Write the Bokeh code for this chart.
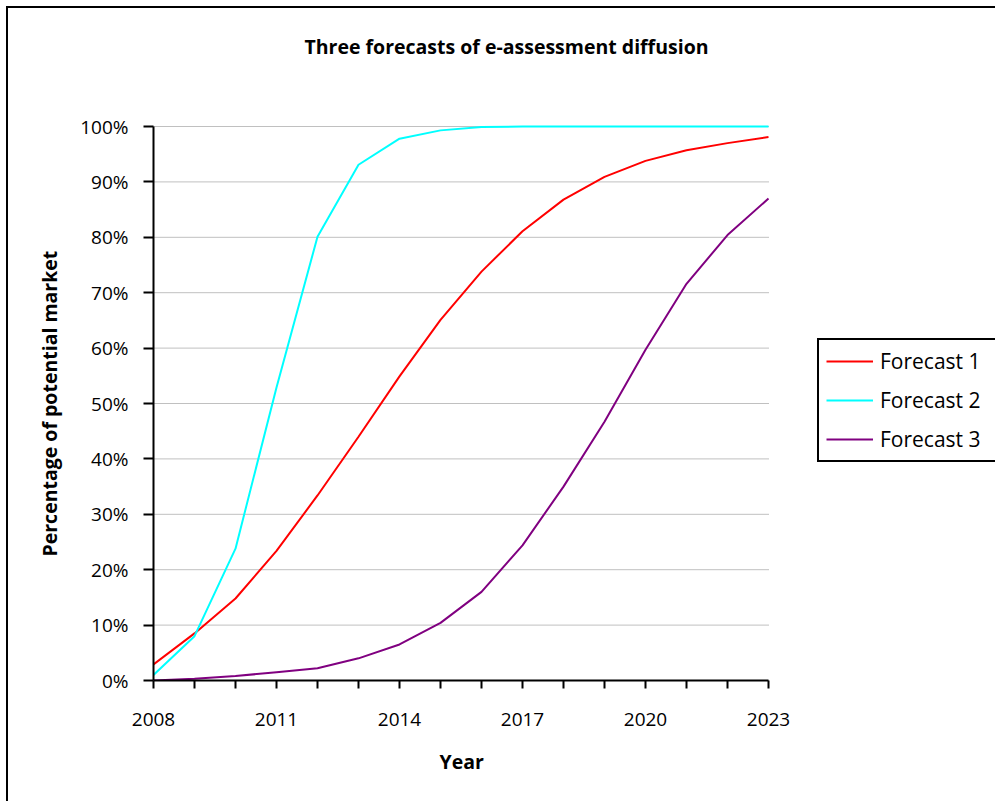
from bokeh.plotting import figure
from bokeh.models import (Range1d, FixedTicker, NumeralTickFormatter, Legend, LegendItem, Label, Title)
from bokeh.embed import file_html
from bokeh.resources import INLINE

# ---- data ----
years = [2008, 2009, 2010, 2011, 2012, 2013, 2014, 2015,
         2016, 2017, 2018, 2019, 2020, 2021, 2022, 2023]
forecast1 = [0.029, 0.085, 0.148, 0.234, 0.334, 0.440, 0.549, 0.651,
             0.738, 0.811, 0.868, 0.909, 0.938, 0.957, 0.970, 0.981]
forecast2 = [0.010, 0.080, 0.238, 0.529, 0.801, 0.931, 0.978, 0.993,
             0.999, 1.000, 1.000, 1.000, 1.000, 1.000, 1.000, 1.000]
forecast3 = [0.000, 0.003, 0.008, 0.015, 0.022, 0.040, 0.065, 0.104,
             0.160, 0.244, 0.350, 0.467, 0.597, 0.716, 0.804, 0.870]
series_names = ["Forecast 1", "Forecast 2", "Forecast 3"]
series_colors = ["#FF0000", "#00FFFF", "#800080"]
labelled_years = [2008, 2011, 2014, 2017, 2020, 2023]
y_ticks = [0.0, 0.1, 0.2, 0.3, 0.4, 0.5, 0.6, 0.7, 0.8, 0.9, 1.0]
title_text = "Three forecasts of e-assessment diffusion"
x_title = "Year"
y_title = "Percentage of potential market"

FONT = "Open Sans"

# layout (pixels)
W, H = 987, 793
LEFT, BOTTOM = 145, 121
PX_PER_YEAR = 41.0
PX_PER_UNIT = 554.0
frame_w = W - LEFT
frame_h = H - BOTTOM
x_end = years[0] + frame_w / PX_PER_YEAR
y_end = frame_h / PX_PER_UNIT

p = figure(width=W, height=H, output_backend="svg", toolbar_location=None,
           x_range=Range1d(years[0], x_end), y_range=Range1d(0, y_end),
           min_border_left=LEFT, min_border_right=0, min_border_top=0,
           min_border_bottom=BOTTOM)
p.styles = {"outline": "2px solid black", "margin-left": "8px", "margin-top": "8px"}
p.outline_line_color = None
p.background_fill_color = "white"
p.border_fill_color = "white"

# grid (horizontal dotted lines limited to the plotted years)
p.xgrid.grid_line_color = None
p.ygrid.grid_line_color = None
p.segment(x0=[years[0]] * len(y_ticks), x1=[years[-1]] * len(y_ticks),
          y0=y_ticks, y1=y_ticks, line_color="#808080", line_dash="1 1", line_width=1)

# axes
p.xaxis.ticker = FixedTicker(ticks=years)
p.xaxis.bounds = (years[0], years[-1])
p.xaxis.major_label_overrides = {y: (str(y) if y in labelled_years else "") for y in years}
p.yaxis.ticker = FixedTicker(ticks=y_ticks)
p.yaxis.bounds = (y_ticks[0], y_ticks[-1])
p.yaxis.formatter = NumeralTickFormatter(format="0%")
for ax in (p.xaxis, p.yaxis):
    ax.axis_line_color = "black"
    ax.axis_line_width = 2
    ax.major_tick_line_color = "black"
    ax.major_tick_line_width = 2
    ax.major_tick_in = 0
    ax.minor_tick_line_color = None
    ax.major_label_text_font = FONT
    ax.major_label_text_font_size = "19px"
    ax.major_label_text_color = "black"
p.xaxis.major_tick_out = 8
p.yaxis.major_tick_out = 10
p.xaxis.major_label_standoff = 24
p.yaxis.major_label_standoff = 15

# axis titles, centred on the axis extents
ytitle = Title(text=y_title, align="left", offset=124, vertical_align="bottom", standoff=30,
               text_font=FONT, text_font_size="19.5px", text_font_style="bold", text_color="black")
p.add_layout(ytitle, "left")
xtitle = Title(text=x_title, align="left", offset=286, vertical_align="bottom", standoff=34,
               text_font=FONT, text_font_size="19.5px", text_font_style="bold", text_color="black")
p.add_layout(xtitle, "below")

# lines
renderers = []
for vals, name, col in zip([forecast1, forecast2, forecast3], series_names, series_colors):
    r = p.line(years, vals, line_color=col, line_width=2)
    renderers.append(r)

# legend
legend = Legend(items=[LegendItem(label=n, renderers=[r]) for n, r in zip(series_names, renderers)],
                location=(664, 218), orientation="vertical",
                border_line_color="black", border_line_width=2, border_line_alpha=1,
                background_fill_color="white", background_fill_alpha=1,
                label_text_font=FONT, label_text_font_size="21px",
                label_text_color="black",
                glyph_width=47, glyph_height=20, label_height=20, label_width=125,
                spacing=11, padding=7, margin=0, label_standoff=7)
p.add_layout(legend, "center")

# chart title
title = Label(x=353, y=634, x_units="screen", y_units="screen", text=title_text,
              text_align="center", text_baseline="alphabetic",
              text_font=FONT, text_font_size="19.5px", text_font_style="bold",
              text_color="black")
p.add_layout(title)

open("out.html", "w").write(file_html(p, INLINE))
